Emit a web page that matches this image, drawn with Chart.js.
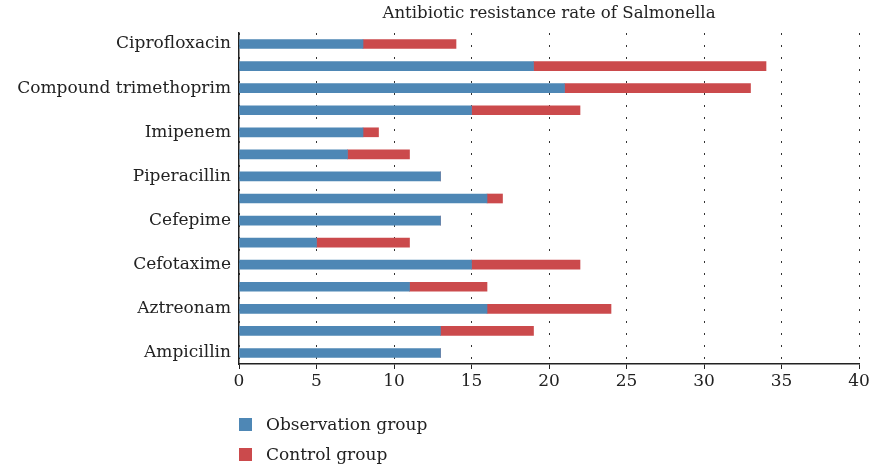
<!DOCTYPE html>
<html>
<head>
<meta charset="utf-8">
<script src="https://cdn.jsdelivr.net/npm/chart.js@4.4.0/dist/chart.umd.min.js"></script>
<style>
  body { margin: 0; background: #fff; }
  #wrap { position: relative; width: 872px; height: 470px; }
  #legend { position: absolute; left: 239px; top: 409px; font-family: "DejaVu Serif", serif; font-size: 17px; color: #222; }
  .item { height: 30px; line-height: 30px; display: flex; align-items: center; }
  .box { width: 13px; height: 13px; margin-right: 14px; }
</style>
</head>
<body>
<div id="wrap">
  <canvas id="c" width="872" height="470"></canvas>
  <div id="legend"></div>
</div>
<script>
  // top to bottom, unnamed rows are unlabelled in the original
  const categories = ['Ciprofloxacin', '', 'Compound trimethoprim', '', 'Imipenem', '', 'Piperacillin', '',
    'Cefepime', '', 'Cefotaxime', '', 'Aztreonam', '', 'Ampicillin'];
  const observation = [8, 19, 21, 15, 8, 7, 13, 16, 13, 5, 15, 11, 16, 13, 13];
  const control = [6, 15, 12, 7, 1, 4, 0, 1, 0, 6, 7, 5, 8, 6, 0];
  const seriesNames = ['Observation group', 'Control group'];
  const colors = ['#4e87b5', '#cb4a4c'];

  const serif = '"DejaVu Serif", serif';

  const titlePlugin = {
    id: 'centerTitle',
    afterDraw(chart) {
      const { ctx, chartArea } = chart;
      ctx.save();
      ctx.font = '16.6px ' + serif;
      ctx.fillStyle = '#222';
      ctx.textAlign = 'center';
      ctx.textBaseline = 'middle';
      ctx.fillText('Antibiotic resistance rate of Salmonella', (chartArea.left + chartArea.right) / 2, 14);
      ctx.restore();
    }
  };

  const chart = new Chart(document.getElementById('c'), {
    type: 'bar',
    data: {
      labels: categories,
      datasets: [
        { label: seriesNames[0], data: observation, backgroundColor: colors[0], barThickness: 9 },
        { label: seriesNames[1], data: control, backgroundColor: colors[1], barThickness: 9 }
      ]
    },
    options: {
      indexAxis: 'y',
      responsive: false,
      animation: false,
      layout: { padding: { top: 33, right: 13, bottom: 76, left: 0 } },
      plugins: {
        legend: { display: false },
        tooltip: { enabled: false }
      },
      scales: {
        x: {
          stacked: true,
          min: 0,
          max: 40,
          ticks: { stepSize: 5, color: '#222', font: { family: serif, size: 17 }, padding: 2 },
          grid: {
            color: '#333',
            tickBorderDash: [],
            tickLength: 5,
            tickColor: '#222'
          },
          border: { display: true, color: '#222', width: 1.5, dash: [2, 10] },
          afterFit: s => { s.height = 30; }
        },
        y: {
          stacked: true,
          grid: { display: false, drawTicks: false },
          border: { display: true, color: '#222', width: 1.5 },
          ticks: { autoSkip: false, color: '#222', font: { family: serif, size: 17 }, padding: 8 },
          afterFit: s => { s.width = 239; }
        }
      }
    },
    plugins: [titlePlugin]
  });

  const legend = document.getElementById('legend');
  chart.data.datasets.forEach(ds => {
    const row = document.createElement('div');
    row.className = 'item';
    const box = document.createElement('span');
    box.className = 'box';
    box.style.background = ds.backgroundColor;
    row.appendChild(box);
    row.appendChild(document.createTextNode(ds.label));
    legend.appendChild(row);
  });
</script>
</body>
</html>
